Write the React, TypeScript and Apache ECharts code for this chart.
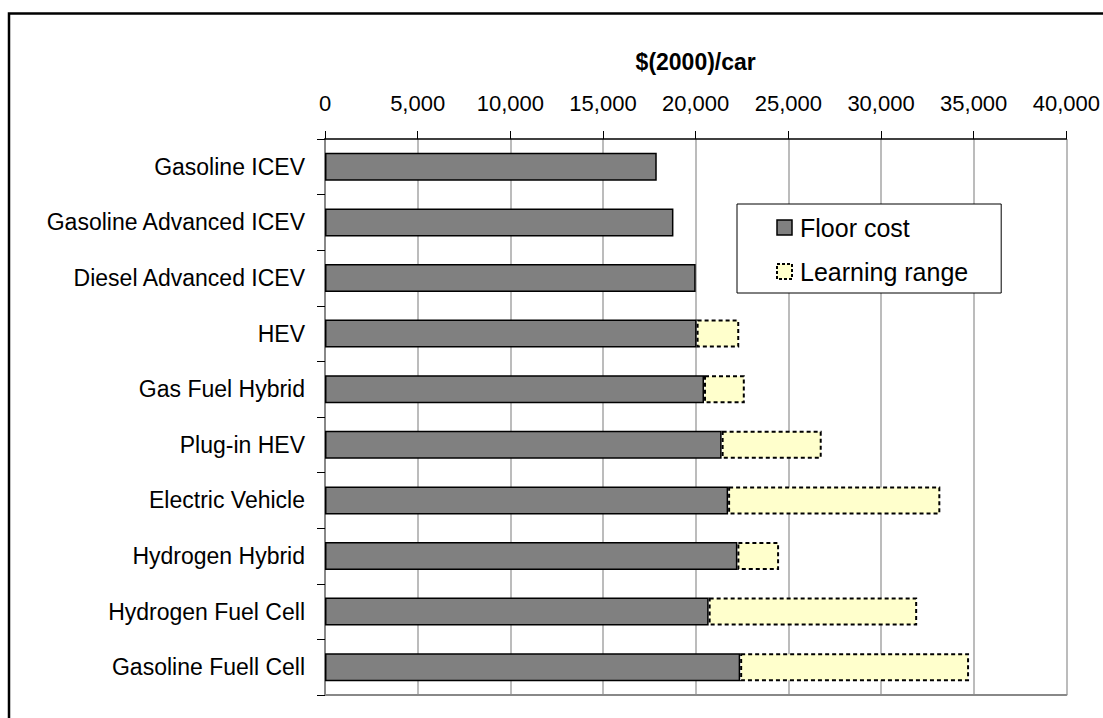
import React, { useEffect, useRef } from "react";
import * as echarts from "echarts";

const categories = [
  "Gasoline ICEV",
  "Gasoline Advanced ICEV",
  "Diesel Advanced ICEV",
  "HEV",
  "Gas Fuel Hybrid",
  "Plug-in HEV",
  "Electric Vehicle",
  "Hydrogen Hybrid",
  "Hydrogen Fuel Cell",
  "Gasoline Fuell Cell",
];

const floorCost = [17900, 18800, 20000, 20050, 20450, 21400, 21750, 22250, 20700, 22400];
const learningUpper: (number | null)[] = [null, null, null, 22350, 22650, 26800, 33200, 24500, 31950, 34750];

const axisTitle = "$(2000)/car";
const FONT = "'Liberation Sans', Arial, sans-serif";

export default function App() {
  const ref = useRef<HTMLDivElement>(null);
  useEffect(() => {
    if (!ref.current) return;
    const chart = echarts.init(ref.current, undefined, { renderer: "svg" });
    const learningRange = learningUpper.map((u, i) => (u == null ? null : u - floorCost[i]));
    chart.setOption({
      animation: false,
      backgroundColor: "#ffffff",
      textStyle: { fontFamily: FONT, color: "#000" },
      graphic: [
        {
          type: "rect",
          z: 0,
          shape: { x: 9, y: 13.5, width: 1200, height: 800 },
          style: { fill: "none", stroke: "#000", lineWidth: 2.5 },
        },
      ],
      grid: { left: 325, right: 35, top: 139, bottom: 23, containLabel: false },
      legend: {
        orient: "vertical",
        left: 737,
        top: 204,
        padding: [11, 33, 9, 39],
        backgroundColor: "#fff",
        borderColor: "#000",
        borderWidth: 1,
        itemWidth: 15,
        itemHeight: 15,
        itemGap: 19,
        icon: "rect",
        textStyle: { fontSize: 25, fontFamily: FONT, color: "#000", lineHeight: 23, padding: [0, 0, 0, 3] },
        data: [
          { name: "Floor cost", itemStyle: { borderColor: "#000", borderWidth: 1.5 } },
          { name: "Learning range", itemStyle: { borderColor: "#000", borderWidth: 2, borderType: [3, 2] } },
        ],
      },
      xAxis: [
        {
          type: "value",
          position: "top",
          min: 0,
          max: 40000,
          interval: 5000,
          name: axisTitle,
          nameLocation: "middle",
          nameGap: 77,
          nameTextStyle: { fontSize: 23, fontWeight: "bold", fontFamily: FONT, color: "#000", verticalAlign: "middle" },
          axisLine: { show: true, lineStyle: { color: "#000", width: 1.5 } },
          axisTick: { show: true, length: 8, inside: false, lineStyle: { color: "#000", width: 1 } },
          axisLabel: {
            fontSize: 22,
            color: "#000",
            fontFamily: FONT,
            margin: 25,
            formatter: (v: number) => v.toLocaleString("en-US"),
          },
          splitLine: { show: true, lineStyle: { color: "#a6a6a6", width: 1.5 } },
        },
        {
          type: "value",
          position: "bottom",
          min: 0,
          max: 40000,
          interval: 5000,
          axisLine: { show: true, lineStyle: { color: "#888", width: 2 } },
          axisTick: { show: false },
          axisLabel: { show: false },
          splitLine: { show: false },
        },
      ],
      yAxis: [
        {
          type: "category",
          data: categories,
          inverse: true,
          axisLine: { show: true, lineStyle: { color: "#000", width: 1.5 } },
          axisTick: { show: true, length: 8, alignWithLabel: false, lineStyle: { color: "#000", width: 1 } },
          axisLabel: { fontSize: 23, color: "#000", fontFamily: FONT, margin: 20 },
          splitLine: { show: false },
        },
        {
          type: "category",
          data: categories,
          inverse: true,
          position: "right",
          axisLine: { show: true, lineStyle: { color: "#888", width: 2 } },
          axisTick: { show: false },
          axisLabel: { show: false },
          splitLine: { show: false },
        },
      ],
      series: [
        {
          name: "Floor cost",
          type: "bar",
          stack: "cost",
          barWidth: 28,
          data: floorCost,
          itemStyle: { color: "#808080", borderColor: "#000", borderWidth: 1.5 },
        },
        {
          name: "Learning range",
          type: "bar",
          stack: "cost",
          barWidth: 28,
          data: learningRange,
          itemStyle: { color: "#FFFFCC", borderColor: "#000", borderWidth: 2, borderType: [4, 3] },
        },
      ],
    });
    return () => chart.dispose();
  }, []);
  return <div ref={ref} style={{ position: "absolute", left: 0, top: 0, width: 1103, height: 718 }} />;
}
